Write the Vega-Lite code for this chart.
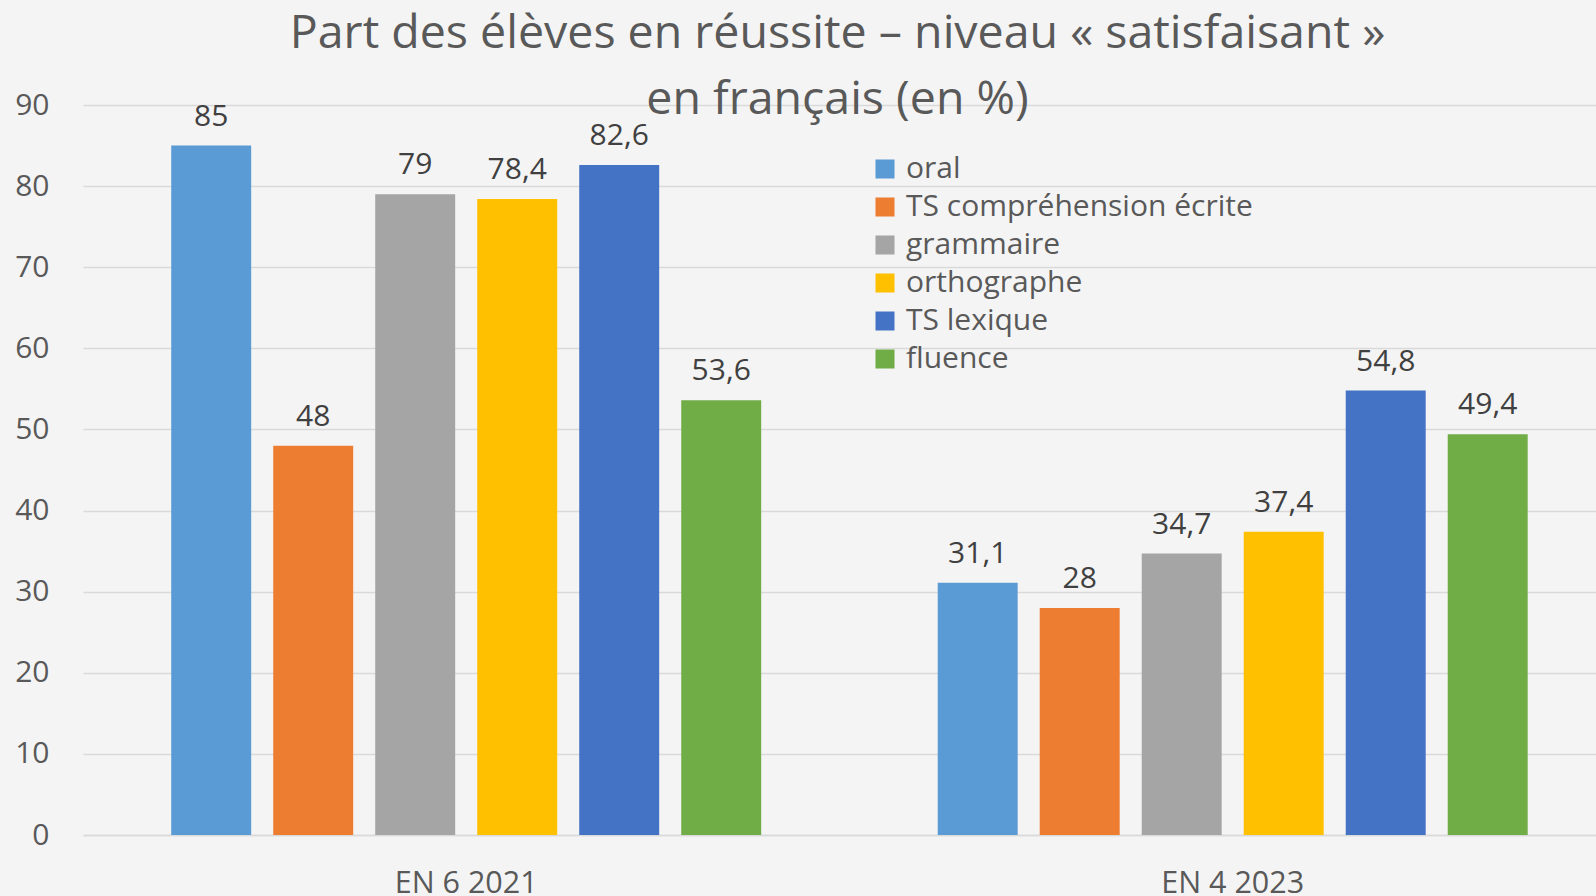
{
  "$schema": "https://vega.github.io/schema/vega-lite/v6.json",
  "width": 1513,
  "height": 730,
  "autosize": {"type": "none"},
  "padding": {"left": 83, "top": 105, "right": 0, "bottom": 61},
  "background": "#f4f4f4",
  "title": {
    "text": ["Part des élèves en réussite – niveau « satisfaisant »", "en français (en %)"],
    "fontSize": 46.5,
    "font": "Open Sans",
    "fontWeight": "normal",
    "color": "#595959",
    "lineHeight": 66,
    "anchor": "middle",
    "frame": "group",
    "offset": -33,
    "dx": -2
  },
  "data": {
    "values": [
      {"evaluation": "EN 6 2021", "domaine": "oral", "value": 85},
      {"evaluation": "EN 6 2021", "domaine": "TS compréhension écrite", "value": 48},
      {"evaluation": "EN 6 2021", "domaine": "grammaire", "value": 79},
      {"evaluation": "EN 6 2021", "domaine": "orthographe", "value": 78.4},
      {"evaluation": "EN 6 2021", "domaine": "TS lexique", "value": 82.6},
      {"evaluation": "EN 6 2021", "domaine": "fluence", "value": 53.6},
      {"evaluation": "EN 4 2023", "domaine": "oral", "value": 31.1},
      {"evaluation": "EN 4 2023", "domaine": "TS compréhension écrite", "value": 28},
      {"evaluation": "EN 4 2023", "domaine": "grammaire", "value": 34.7},
      {"evaluation": "EN 4 2023", "domaine": "orthographe", "value": 37.4},
      {"evaluation": "EN 4 2023", "domaine": "TS lexique", "value": 54.8},
      {"evaluation": "EN 4 2023", "domaine": "fluence", "value": 49.4}
    ]
  },
  "encoding": {
    "x": {
      "field": "evaluation",
      "type": "nominal",
      "sort": ["EN 6 2021", "EN 4 2023"],
      "scale": {"paddingInner": 0.2303, "paddingOuter": 0.1021, "align": 0.5636},
      "axis": {
        "title": null,
        "labelAngle": 0,
        "ticks": false,
        "labelPadding": 33,
        "labelFontSize": 30.5,
        "labelFont": "Open Sans",
        "labelColor": "#595959",
        "domainColor": "#d9d9d9",
        "domainWidth": 1.5,
        "grid": false
      }
    },
    "xOffset": {
      "field": "domaine",
      "type": "nominal",
      "sort": ["oral", "TS compréhension écrite", "grammaire", "orthographe", "TS lexique", "fluence"],
      "scale": {"paddingInner": 0.216, "paddingOuter": 0}
    },
    "y": {
      "field": "value",
      "type": "quantitative",
      "scale": {"domain": [0, 90], "nice": false},
      "axis": {
        "title": null,
        "values": [0, 10, 20, 30, 40, 50, 60, 70, 80, 90],
        "domain": false,
        "ticks": false,
        "labelPadding": 34,
        "labelFontSize": 30,
        "labelFont": "Open Sans",
        "labelColor": "#595959",
        "gridColor": "#d9d9d9",
        "gridWidth": 1.3
      }
    }
  },
  "layer": [
    {
      "mark": {"type": "bar"},
      "encoding": {
        "color": {
          "field": "domaine",
          "type": "nominal",
          "sort": ["oral", "TS compréhension écrite", "grammaire", "orthographe", "TS lexique", "fluence"],
          "scale": {
            "domain": ["oral", "TS compréhension écrite", "grammaire", "orthographe", "TS lexique", "fluence"],
            "range": ["#5b9bd5", "#ed7d31", "#a5a5a5", "#ffc000", "#4472c4", "#70ad47"]
          },
          "legend": {
            "orient": "none",
            "legendX": 787,
            "legendY": 49,
            "title": null,
            "padding": 0,
            "symbolType": "square",
            "symbolSize": 361,
            "symbolStrokeWidth": 0,
            "labelFontSize": 30,
            "labelFont": "Open Sans",
            "labelColor": "#595959",
            "labelOffset": 6,
            "labelLimit": 0,
            "rowPadding": 8
          }
        }
      }
    },
    {
      "mark": {
        "type": "text",
        "baseline": "bottom",
        "dy": -14,
        "fontSize": 30,
        "font": "Open Sans",
        "color": "#404040"
      },
      "encoding": {
        "text": {"field": "value", "type": "quantitative", "format": "~g"}
      }
    }
  ],
  "config": {
    "view": {"stroke": null},
    "locale": {
      "number": {"decimal": ",", "thousands": " ", "grouping": [3], "currency": ["", " €"]}
    }
  }
}
